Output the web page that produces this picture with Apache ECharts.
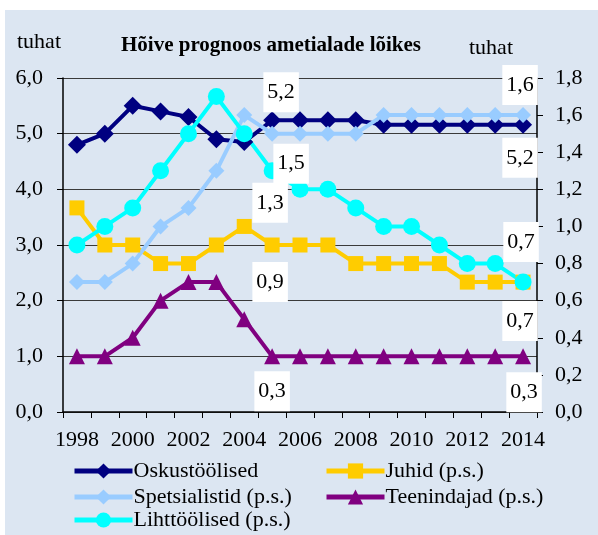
<!DOCTYPE html>
<html>
<head>
<meta charset="utf-8">
<script src="https://cdn.jsdelivr.net/npm/echarts@6/dist/echarts.min.js"></script>
<style>
  body { margin: 0; background: #ffffff; }
  #wrap { position: relative; width: 598px; height: 535px; background: #ffffff; }
  #panel { position: absolute; left: 5px; top: 10px; width: 593px; height: 525px; background: #dce6f2; }
  #chart { position: absolute; left: 0; top: 0; width: 598px; height: 535px; }
</style>
</head>
<body>
<div id="wrap">
  <div id="panel"></div>
  <div id="chart"></div>
</div>
<script>
  // aastad
  var years = ['1998', '1999', '2000', '2001', '2002', '2003', '2004', '2005', '2006',
               '2007', '2008', '2009', '2010', '2011', '2012', '2013', '2014'];
  // vasak telg
  var oskustoolised = [4.8, 5.0, 5.5, 5.4, 5.3, 4.9, 4.85, 5.24, 5.24, 5.24, 5.24, 5.16, 5.16, 5.16, 5.16, 5.16, 5.16];
  // parem telg (p.s.)
  var juhid = [1.1, 0.9, 0.9, 0.8, 0.8, 0.9, 1.0, 0.9, 0.9, 0.9, 0.8, 0.8, 0.8, 0.8, 0.7, 0.7, 0.7];
  var spetsialistid = [0.7, 0.7, 0.8, 1.0, 1.1, 1.3, 1.6, 1.5, 1.5, 1.5, 1.5, 1.6, 1.6, 1.6, 1.6, 1.6, 1.6];
  var teenindajad = [0.3, 0.3, 0.4, 0.6, 0.7, 0.7, 0.5, 0.3, 0.3, 0.3, 0.3, 0.3, 0.3, 0.3, 0.3, 0.3, 0.3];
  var lihttoolised = [0.9, 1.0, 1.1, 1.3, 1.5, 1.7, 1.5, 1.3, 1.2, 1.2, 1.1, 1.0, 1.0, 0.9, 0.8, 0.8, 0.7];

  var FONT = '"Liberation Serif", "DejaVu Serif", serif';
  var comma = function (v) { return Number(v).toFixed(1).replace('.', ','); };

  // millistel punktidel on silt (indeks -> nihe)
  var labelSpots = {
    'Oskustöölised': { 7: [9, -28], 16: [-3, 33] },
    'Spetsialistid (p.s.)': { 7: [19, 30], 16: [-3, -30] },
    'Lihttöölised (p.s.)': { 7: [-2, 32], 16: [-2, -40] },
    'Juhid (p.s.)': { 7: [-2, 37], 16: [-3, 39] },
    'Teenindajad (p.s.)': { 7: [0, 35], 16: [1, 36] }
  };

  // legendi kohad: [nimi, vasak, ülemine]
  var legendSpots = [
    ['Oskustöölised', 72, 461],
    ['Juhid (p.s.)', 324, 461],
    ['Spetsialistid (p.s.)', 72, 487],
    ['Teenindajad (p.s.)', 324, 487],
    ['Lihttöölised (p.s.)', 72, 510]
  ];

  function withLabels(name, values) {
    var spots = labelSpots[name] || {};
    return values.map(function (v, i) {
      if (!spots[i]) return v;
      return {
        value: v,
        label: {
          show: true,
          position: 'inside',
          offset: spots[i],
          formatter: function (p) { return comma(p.value); },
          backgroundColor: '#ffffff',
          padding: [9, 4, 9, 4],
          color: '#000',
          fontFamily: FONT,
          fontSize: 22
        }
      };
    });
  }

  function makeSeries(name, values, color, symbol, size, axis) {
    return {
      name: name,
      type: 'line',
      yAxisIndex: axis,
      data: withLabels(name, values),
      symbol: symbol,
      symbolSize: size,
      showAllSymbol: true,
      lineStyle: { color: color, width: 4 },
      itemStyle: { color: color },
      label: { show: false },
      emphasis: { disabled: true },
      animation: false
    };
  }

  var myChart = echarts.init(document.getElementById('chart'));

  var legends = legendSpots.map(function (s) {
    return {
      left: s[1],
      top: s[2] - 1,
      padding: 0,
      itemWidth: 58,
      itemHeight: 19,
      lineStyle: { width: 5 },
      data: [s[0]],
      textStyle: { fontFamily: FONT, fontSize: 22, color: '#000', padding: [0, 0, 0, -4] }
    };
  });

  var option = {
    backgroundColor: 'transparent',
    title: {
      text: 'Hõive prognoos ametialade lõikes',
      left: 266,
      top: 30,
      textAlign: 'center',
      textStyle: { fontFamily: FONT, fontSize: 21, fontWeight: 'bold', color: '#000' }
    },
    graphic: [
      { type: 'text', left: 17, top: 31, style: { text: 'tuhat', font: '22px ' + FONT, fill: '#000' } },
      { type: 'text', left: 469, top: 37, style: { text: 'tuhat', font: '22px ' + FONT, fill: '#000' } }
    ],
    legend: legends,
    grid: {
      left: 63,
      right: 61,
      top: 78,
      bottom: 123,
      containLabel: false
    },
    xAxis: {
      type: 'category',
      data: years,
      boundaryGap: true,
      axisLine: { lineStyle: { color: '#000', width: 1.5 } },
      axisTick: { show: true, interval: 0, length: 6, lineStyle: { color: '#000' } },
      axisLabel: {
        interval: 1,
        margin: 17,
        fontFamily: FONT,
        fontSize: 22,
        color: '#000'
      }
    },
    yAxis: [
      {
        type: 'value',
        min: 0,
        max: 6,
        interval: 1,
        axisLine: { show: true, lineStyle: { color: '#000', width: 1.5 } },
        axisTick: { show: true, length: 6, lineStyle: { color: '#000' } },
        axisLabel: { margin: 20, fontFamily: FONT, fontSize: 22, color: '#000', formatter: comma },
        splitLine: { show: true, lineStyle: { color: '#3a3a3a', width: 1.2 } }
      },
      {
        type: 'value',
        min: 0,
        max: 1.8,
        interval: 0.2,
        position: 'right',
        axisLine: { show: true, lineStyle: { color: '#000', width: 1.5 } },
        axisTick: { show: true, length: 6, lineStyle: { color: '#000' } },
        axisLabel: { margin: 18, fontFamily: FONT, fontSize: 22, color: '#000', formatter: comma },
        splitLine: { show: false }
      }
    ],
    series: [
      makeSeries('Oskustöölised', oskustoolised, '#000080', 'diamond', 18, 0),
      makeSeries('Juhid (p.s.)', juhid, '#ffcc00', 'rect', 15, 1),
      makeSeries('Spetsialistid (p.s.)', spetsialistid, '#99ccff', 'diamond', 16, 1),
      makeSeries('Teenindajad (p.s.)', teenindajad, '#800080', 'triangle', 16, 1),
      makeSeries('Lihttöölised (p.s.)', lihttoolised, '#00ffff', 'circle', 17, 1)
    ]
  };

  myChart.setOption(option);
</script>
</body>
</html>
